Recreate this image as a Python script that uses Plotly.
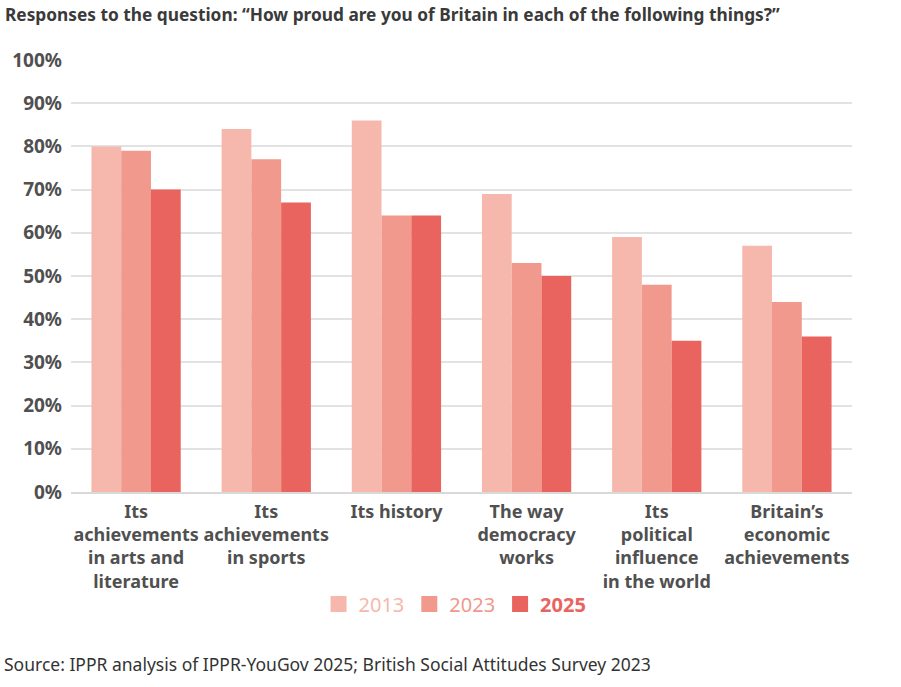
import plotly.graph_objects as go

categories = [
    "Its<br>achievements<br>in arts and<br>literature",
    "Its<br>achievements<br>in sports",
    "Its history",
    "The way<br>democracy<br>works",
    "Its<br>political<br>influence<br>in the world",
    "Britain’s<br>economic<br>achievements",
]
years = ["2013", "2023", "2025"]
values_2013 = [80, 84, 86, 69, 59, 57]
values_2023 = [79, 77, 64, 53, 48, 44]
values_2025 = [70, 67, 64, 50, 35, 36]
colors = ["#f6b8ac", "#f0998c", "#e9645f"]
y_ticks = [0, 10, 20, 30, 40, 50, 60, 70, 80, 90, 100]
y_tick_labels = [f"{v}%" for v in y_ticks]

FONT = "Noto Sans"
TXT = "#505050"
L, R, T, B = 65, 49, 60, 195
PW = 901 - L - R
PH = 687 - T - B

fig = go.Figure()
for yr, vals, col in zip(years, [values_2013, values_2023, values_2025], colors):
    fig.add_trace(go.Bar(x=categories, y=vals, name=yr, marker=dict(color=col, line=dict(width=0)),
                         showlegend=False))
for yr, col in zip(years, colors):
    label = f"<span style='color:{col}'>{yr}</span>" if yr != "2025" else f"<b><span style='color:{col}'>{yr}</span></b>"
    fig.add_trace(go.Scatter(x=[None], y=[None], mode="markers", name=label,
                             marker=dict(symbol="square", size=20, color=col)))

fig.update_layout(
    width=901, height=687,
    margin=dict(l=L, r=R, t=T, b=B),
    paper_bgcolor="white", plot_bgcolor="white",
    font=dict(family=FONT, color=TXT, size=17),
    barmode="group", bargap=0.314, bargroupgap=0,
    showlegend=True,
    legend=dict(orientation="h", x=(452 - L) / PW, xanchor="center", y=(492 - 604) / PH, yanchor="middle",
                font=dict(size=20, family=FONT), itemwidth=30, tracegroupgap=0),
    annotations=[
        dict(text="<b>Responses to the question: “How proud are you of Britain in each of the following things?”</b>",
             xref="paper", yref="paper", x=(-L - 4) / PW, y=(492 - 15) / PH, xanchor="left", yanchor="middle",
             showarrow=False, font=dict(size=17.3, color="#3a3a3a", family=FONT)),
        dict(text="Source: IPPR analysis of IPPR-YouGov 2025; British Social Attitudes Survey 2023",
             xref="paper", yref="paper", x=(-L - 5) / PW, y=(492 - 664) / PH, xanchor="left", yanchor="middle",
             showarrow=False, font=dict(size=17.5, color="#333333", family=FONT)),
    ],
)
fig.update_yaxes(range=[0, 100], tickvals=y_ticks, ticktext=[f"<b>{t}</b>" for t in y_tick_labels],
                 showgrid=True, gridcolor="#e2e2e2", gridwidth=2, zeroline=False,
                 showline=False, ticks="", ticklabelstandoff=8,
                 tickfont=dict(size=19, color=TXT, family=FONT))
fig.update_xaxes(tickvals=categories, ticktext=[f"<b>{c}</b>" for c in categories],
                 showline=True, linecolor="#d9d9d9", linewidth=2, ticks="",
                 tickfont=dict(size=18, color=TXT, family=FONT), ticklabelstandoff=2)

fig.write_html("out.html")
